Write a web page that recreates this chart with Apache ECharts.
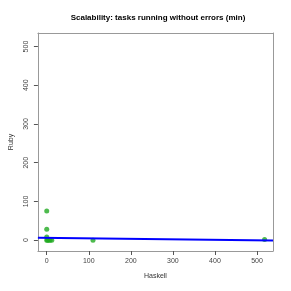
<!DOCTYPE html>
<html><head><meta charset="utf-8">
<script src="https://cdn.jsdelivr.net/npm/echarts@6/dist/echarts.min.js"></script>
<style>html,body{margin:0;padding:0;background:#fff}#c{width:291px;height:291px}</style>
</head><body><div id="c"></div>
<script>
var titleText = 'Scalability: tasks running without errors (min)';
var haskell = [0, 0, 0, 0, 2, 5, 8, 12, 110, 518];
var ruby = [75, 28, 8, 0, 0, 0, 0, 0, 0, 2];
var fitX = [-21, 538];
var fitY = [6, -1];
var xTicks = [0, 100, 200, 300, 400, 500];
var yTicks = [0, 100, 200, 300, 400, 500];

var pts = haskell.map(function (h, i) { return [h, ruby[i]]; });
var fit = fitX.map(function (x, i) { return [x, fitY[i]]; });
var fontFam = '"Liberation Sans", Arial, sans-serif';
var boxLine = {show: true, onZero: false, lineStyle: {color: '#999', width: 1}};
var chart = echarts.init(document.getElementById('c'), null, {renderer: 'canvas'});
chart.setOption({
  animation: false,
  title: {text: titleText, left: 153, textAlign: 'center', top: 9,
    textStyle: {fontFamily: fontFam, fontSize: 8, fontWeight: 'bold', color: '#000'}},
  grid: {left: 33, right: 18, top: 33, bottom: 40, show: false},
  xAxis: [
    {type: 'value', position: 'bottom', min: -21, max: 538, name: 'Haskell', nameLocation: 'middle', nameGap: 22,
      nameTextStyle: {fontFamily: fontFam, fontSize: 7, color: '#333'},
      axisLine: boxLine, splitLine: {show: false},
      axisTick: {show: true, inside: false, length: 4, lineStyle: {color: '#555', width: 1}, customValues: xTicks},
      axisLabel: {fontFamily: fontFam, fontSize: 7, color: '#444', margin: 7, customValues: xTicks}},
    {type: 'value', position: 'top', min: -21, max: 538, axisLine: boxLine,
      axisTick: {show: false}, axisLabel: {show: false}, splitLine: {show: false}}
  ],
  yAxis: [
    {type: 'value', position: 'left', min: -28, max: 535, name: 'Ruby', nameLocation: 'middle', nameGap: 22,
      nameTextStyle: {fontFamily: fontFam, fontSize: 7, color: '#333'},
      axisLine: boxLine, splitLine: {show: false},
      axisTick: {show: true, inside: false, length: 4, lineStyle: {color: '#555', width: 1}, customValues: yTicks},
      axisLabel: {fontFamily: fontFam, fontSize: 7, color: '#444', margin: 8, rotate: 90, customValues: yTicks}},
    {type: 'value', position: 'right', min: -28, max: 535, axisLine: boxLine,
      axisTick: {show: false}, axisLabel: {show: false}, splitLine: {show: false}}
  ],
  series: [
    {type: 'scatter', xAxisIndex: 0, yAxisIndex: 0, data: pts, symbolSize: 5, itemStyle: {color: '#22aa22'}},
    {type: 'line', xAxisIndex: 0, yAxisIndex: 0, data: fit, showSymbol: false, lineStyle: {color: '#0000ff', width: 2}}
  ]
});
</script></body></html>
